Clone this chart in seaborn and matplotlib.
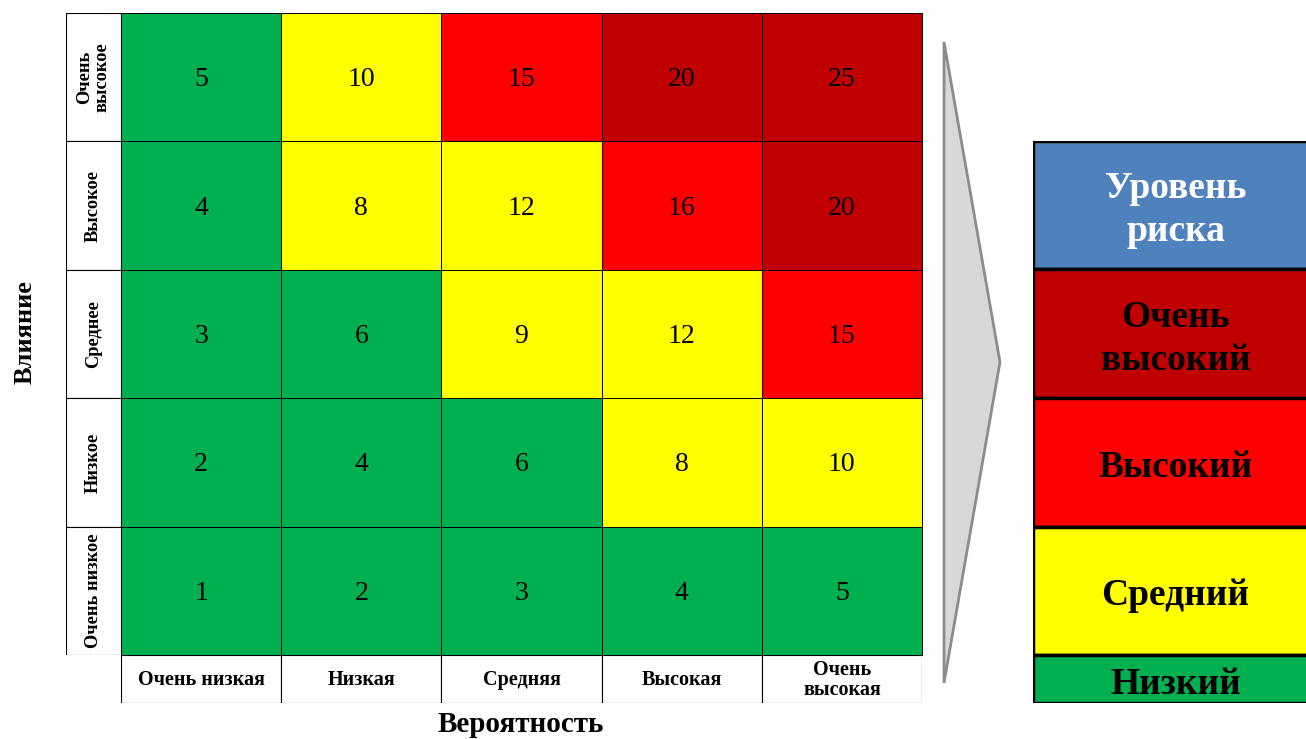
import numpy as np
import matplotlib
matplotlib.use("Agg")
import matplotlib.pyplot as plt
from matplotlib.colors import ListedColormap
from matplotlib.patches import Rectangle, Polygon
import seaborn as sns

sns.set_theme(style="white")
plt.rcParams["font.family"] = ["Liberation Serif", "DejaVu Serif"]
plt.rcParams["text.color"] = "black"

# Risk matrix data
probability = ["Очень низкая", "Низкая", "Средняя", "Высокая", "Очень\nвысокая"]
impact = ["Очень\nвысокое", "Высокое", "Среднее", "Низкое", "Очень низкое"]  # top to bottom
scores = np.array([
    [5, 10, 15, 20, 25],
    [4, 8, 12, 16, 20],
    [3, 6, 9, 12, 15],
    [2, 4, 6, 8, 10],
    [1, 2, 3, 4, 5],
])
# risk level per cell: 0 low, 1 medium, 2 high, 3 very high
levels = np.array([
    [0, 1, 2, 3, 3],
    [0, 1, 1, 2, 3],
    [0, 0, 1, 1, 2],
    [0, 0, 0, 1, 1],
    [0, 0, 0, 0, 0],
])
level_colors = ["#00B050", "#FFFF00", "#FF0000", "#C00000"]

legend_labels = ["Уровень\nриска", "Очень\nвысокий", "Высокий", "Средний", "Низкий"]
legend_colors = ["#4F81BD", "#C00000", "#FF0000", "#FFFF00", "#00B050"]
legend_text_colors = ["white", "black", "black", "black", "black"]

W, H = 1306, 739
fig = plt.figure(figsize=(W / 100, H / 100), dpi=100)


def px_axes(x0, y0, x1, y1, **kw):
    return fig.add_axes([x0 / W, 1 - y1 / H, (x1 - x0) / W, (y1 - y0) / H], **kw)


# background layer in pixel coordinates: arrow and axis titles
bg = px_axes(0, 0, W, H)
bg.set_xlim(0, W)
bg.set_ylim(H, 0)
bg.axis("off")
bg.add_patch(Polygon([(944, 42), (1000, 362), (944, 683)], closed=True,
                     facecolor="#D7D8DA", edgecolor="#8C8C8C", lw=2))
bg.text(25, 332, "Влияние", rotation=90, ha="center", va="center",
        fontsize=19, fontweight="bold")
bg.text(521, 725, "Вероятность", ha="center", va="center",
        fontsize=21, fontweight="bold")

# heatmap
ax = px_axes(121, 13, 922, 655)
sns.heatmap(levels, cmap=ListedColormap(level_colors), vmin=-0.5, vmax=3.5,
            annot=scores, fmt="d", annot_kws={"color": "black", "fontsize": 20},
            linewidths=0.6, linecolor="black", cbar=False,
            xticklabels=False, yticklabels=False, ax=ax)
for t in ax.texts:
    x, y = t.get_position()
    t.set_position((x, y + 0.02))
for s in ax.spines.values():
    s.set_visible(True)
    s.set_color("black")
    s.set_linewidth(0.7)

# row labels
axr = px_axes(66, 13, 121, 655)
axr.set_xlim(0, 1)
axr.set_ylim(len(impact), 0)
axr.axis("off")
for i, lab in enumerate(impact):
    axr.add_patch(Rectangle((0, i), 1, 1, facecolor="white", edgecolor="black", lw=0.8))
    axr.text(0.5, i + 0.5, lab, rotation=90, ha="center", va="center",
             fontsize=13.2, fontweight="bold", linespacing=1.05, multialignment="center")

# column labels
axc = px_axes(121, 655, 922, 703)
axc.set_xlim(0, len(probability))
axc.set_ylim(1, 0)
axc.axis("off")
for j, lab in enumerate(probability):
    axc.add_patch(Rectangle((j, 0), 1, 1, facecolor="white", edgecolor="black", lw=0.8))
    axc.text(j + 0.5, 0.52, lab, ha="center", va="center",
             fontsize=14.5, fontweight="bold", linespacing=1.0, multialignment="center")

# risk level legend column
heights = [128.5, 128.5, 128.5, 128.5, 48]
bottoms = np.concatenate([[0], np.cumsum(heights)[:-1]])
axl = px_axes(1033, 141, 1318, 703)
axl.bar(np.full(len(heights), 0.5), heights, bottom=bottoms, width=1,
        color=legend_colors, edgecolor="black", lw=2.5, align="center")
axl.set_xlim(0, 1)
axl.set_ylim(sum(heights), 0)
axl.axis("off")
for lab, b, h, tc in zip(legend_labels, bottoms, heights, legend_text_colors):
    axl.text(0.5, b + h / 2 + 5, lab, ha="center", va="center", color=tc,
             fontsize=27, fontweight="bold", linespacing=1.3)

fig.savefig("out.png", dpi=100)
